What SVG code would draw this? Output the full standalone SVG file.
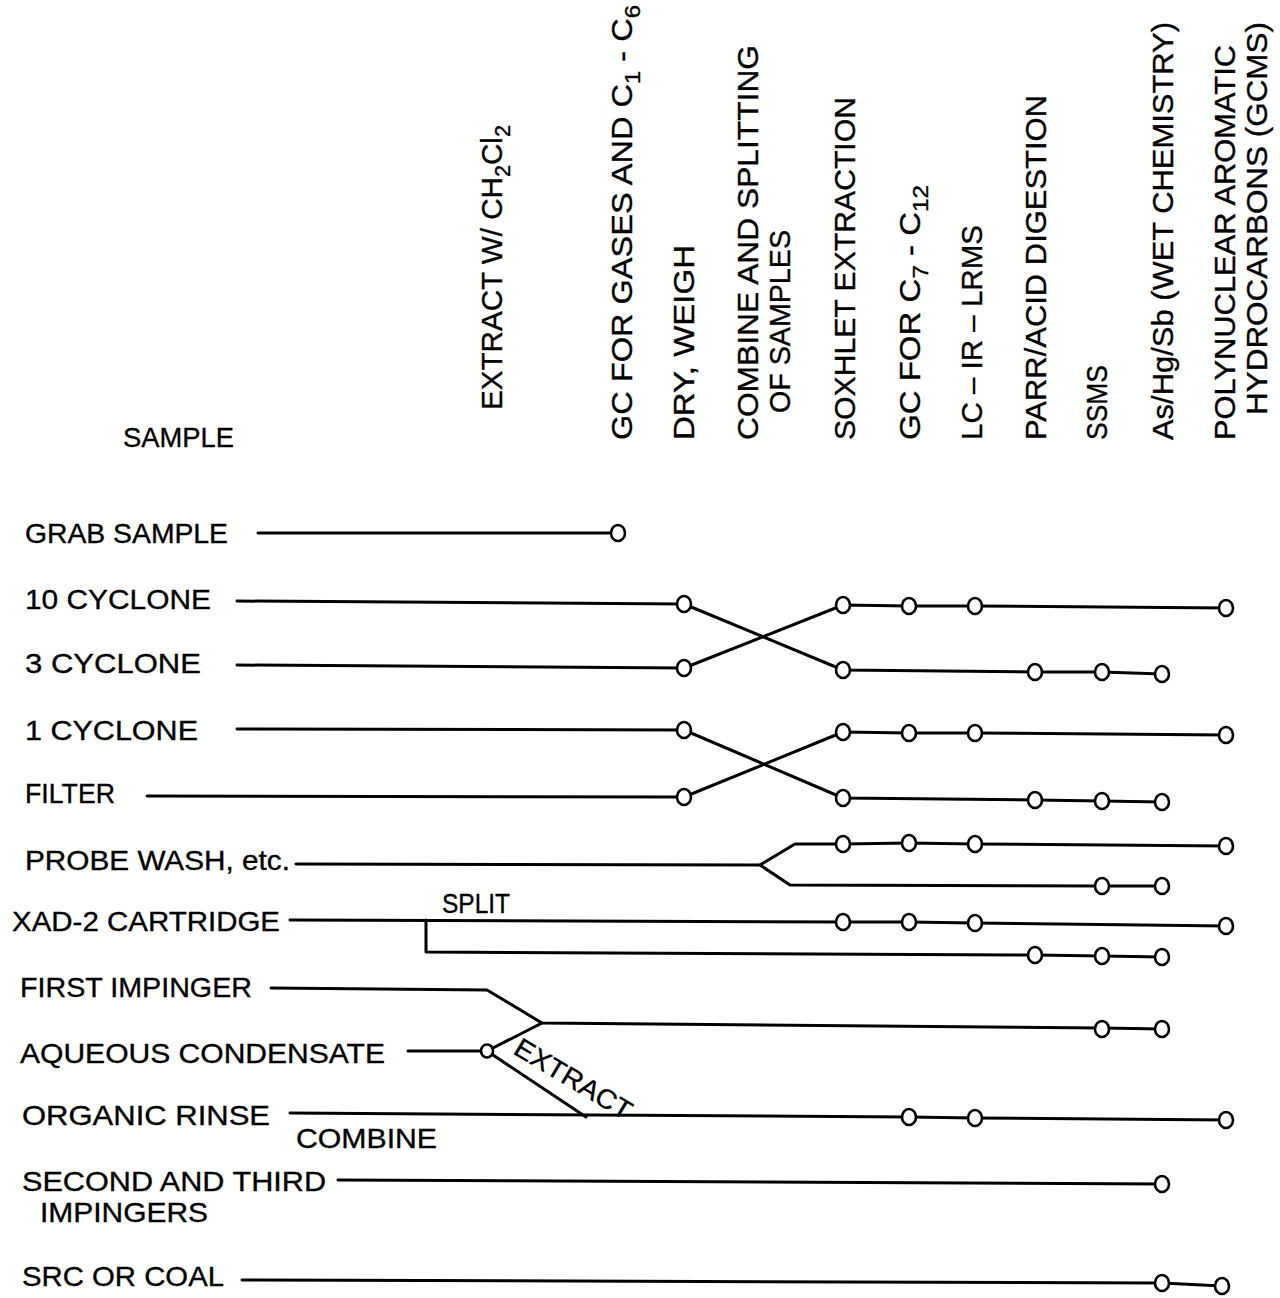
<svg xmlns="http://www.w3.org/2000/svg" width="1280" height="1298" viewBox="0 0 1280 1298">
  <style>
    .lbl { font-family: "Liberation Sans", "DejaVu Sans", sans-serif; font-size: 28px; fill: #000; stroke: #000; stroke-width: 0.35px; }
    .hdr { font-family: "Liberation Sans", "DejaVu Sans", sans-serif; font-size: 30px; fill: #000; stroke: #000; stroke-width: 0.35px; }
    .sub { font-size: 22px; }
    .wire { fill: none; stroke: #000; stroke-width: 3; stroke-linejoin: round; stroke-linecap: round; }
    .pt { fill: #fff; stroke: #000; stroke-width: 2.6; }
  </style>
  <rect width="1280" height="1298" fill="#fff"/>

  <!-- analysis step headers (rotated column titles) -->
  <g id="headers">
    <g id="h-extract"><text class="hdr" transform="translate(502,410) rotate(-90)" textLength="285" lengthAdjust="spacingAndGlyphs">EXTRACT W/ CH<tspan class="sub" dy="8">2</tspan><tspan dy="-8">Cl</tspan><tspan class="sub" dy="8">2</tspan></text></g>
    <g id="h-gc-gases"><text class="hdr" transform="translate(632,440) rotate(-90)" textLength="435" lengthAdjust="spacingAndGlyphs">GC FOR GASES AND C<tspan class="sub" dy="8">1</tspan><tspan dy="-8"> - C</tspan><tspan class="sub" dy="8">6</tspan></text></g>
    <g id="h-dry"><text class="hdr" transform="translate(694,440) rotate(-90)" textLength="195" lengthAdjust="spacingAndGlyphs">DRY, WEIGH</text></g>
    <g id="h-combine">
      <text class="hdr" transform="translate(758,440) rotate(-90)" textLength="395" lengthAdjust="spacingAndGlyphs">COMBINE AND SPLITTING</text>
      <text class="hdr" transform="translate(790,413) rotate(-90)" textLength="183" lengthAdjust="spacingAndGlyphs">OF SAMPLES</text>
    </g>
    <g id="h-soxhlet"><text class="hdr" transform="translate(855,440) rotate(-90)" textLength="343" lengthAdjust="spacingAndGlyphs">SOXHLET EXTRACTION</text></g>
    <g id="h-gc-c7"><text class="hdr" transform="translate(920,440) rotate(-90)" textLength="255" lengthAdjust="spacingAndGlyphs">GC FOR C<tspan class="sub" dy="8">7</tspan><tspan dy="-8"> - C</tspan><tspan class="sub" dy="8">12</tspan></text></g>
    <g id="h-lc"><text class="hdr" transform="translate(982,440) rotate(-90)" textLength="215" lengthAdjust="spacingAndGlyphs">LC – IR – LRMS</text></g>
    <g id="h-parr"><text class="hdr" transform="translate(1046,440) rotate(-90)" textLength="345" lengthAdjust="spacingAndGlyphs">PARR/ACID DIGESTION</text></g>
    <g id="h-ssms"><text class="hdr" transform="translate(1107,440) rotate(-90)" textLength="75" lengthAdjust="spacingAndGlyphs">SSMS</text></g>
    <g id="h-wet"><text class="hdr" transform="translate(1173,440) rotate(-90)" textLength="418" lengthAdjust="spacingAndGlyphs">As/Hg/Sb  (WET CHEMISTRY)</text></g>
    <g id="h-pah">
      <text class="hdr" transform="translate(1235,440) rotate(-90)" textLength="395" lengthAdjust="spacingAndGlyphs">POLYNUCLEAR AROMATIC</text>
      <text class="hdr" transform="translate(1267,415) rotate(-90)" textLength="393" lengthAdjust="spacingAndGlyphs">HYDROCARBONS (GCMS)</text>
    </g>
  </g>

  <!-- sample labels -->
  <g id="samples">
    <g id="s-title"><text class="lbl" x="123" y="447" textLength="111" lengthAdjust="spacingAndGlyphs">SAMPLE</text></g>
    <g id="s-grab"><text class="lbl" x="25" y="543" textLength="203" lengthAdjust="spacingAndGlyphs">GRAB SAMPLE</text></g>
    <g id="s-10cyc"><text class="lbl" x="25" y="609" textLength="186" lengthAdjust="spacingAndGlyphs">10 CYCLONE</text></g>
    <g id="s-3cyc"><text class="lbl" x="25" y="673" textLength="176" lengthAdjust="spacingAndGlyphs">3 CYCLONE</text></g>
    <g id="s-1cyc"><text class="lbl" x="25" y="740" textLength="173" lengthAdjust="spacingAndGlyphs">1 CYCLONE</text></g>
    <g id="s-filter"><text class="lbl" x="25" y="803" textLength="90" lengthAdjust="spacingAndGlyphs">FILTER</text></g>
    <g id="s-probe"><text class="lbl" x="25" y="870" textLength="265" lengthAdjust="spacingAndGlyphs">PROBE WASH, etc.</text></g>
    <g id="s-xad"><text class="lbl" x="12" y="931" textLength="268" lengthAdjust="spacingAndGlyphs">XAD-2 CARTRIDGE</text></g>
    <g id="s-first"><text class="lbl" x="20" y="997" textLength="232" lengthAdjust="spacingAndGlyphs">FIRST IMPINGER</text></g>
    <g id="s-aqueous"><text class="lbl" x="20" y="1063" textLength="365" lengthAdjust="spacingAndGlyphs">AQUEOUS CONDENSATE</text></g>
    <g id="s-organic"><text class="lbl" x="22" y="1125" textLength="248" lengthAdjust="spacingAndGlyphs">ORGANIC RINSE</text></g>
    <g id="s-second">
      <text class="lbl" x="22" y="1191" textLength="304" lengthAdjust="spacingAndGlyphs">SECOND AND THIRD</text>
      <text class="lbl" x="40" y="1222" textLength="168" lengthAdjust="spacingAndGlyphs">IMPINGERS</text>
    </g>
    <g id="s-src"><text class="lbl" x="22" y="1286" textLength="202" lengthAdjust="spacingAndGlyphs">SRC OR COAL</text></g>
  </g>

  <!-- flow lines between samples and analysis steps -->
  <g id="connectors" class="wire">
    <path d="M258 533 L618 533"/>
    <!-- cyclones 10 / 3 -->
    <path d="M237 601 L684 604 L843 670 L1035 672 L1102 672 L1162 674"/>
    <path d="M237 665 L684 668 L843 605 L909 606 L975 606 L1226 608"/>
    <!-- 1 cyclone / filter -->
    <path d="M237 729 L684 730 L843 798 L1035 800 L1102 801 L1162 802"/>
    <path d="M147 796 L684 797 L843 732 L909 733 L975 733 L1226 735"/>
    <!-- probe wash fork -->
    <path d="M296 864 L760 865 L795 844 L843 844 L909 843 L975 844 L1226 846"/>
    <path d="M760 865 L790 885 L1102 886 L1162 886"/>
    <!-- XAD-2 split -->
    <path d="M290 920 L843 922 L909 922 L975 923 L1226 926"/>
    <path d="M426 920 L426 952 L1035 955 L1102 956 L1162 957"/>
    <!-- impinger / condensate -->
    <path d="M271 988 L487 990 L542 1023 L1102 1028 L1162 1029"/>
    <path d="M408 1051 L487 1051 L542 1023"/>
    <path d="M487 1051 L586 1117"/>
    <path d="M290 1113 L909 1117 L975 1118 L1226 1120"/>
    <path d="M338 1180 L1162 1184"/>
    <path d="M242 1280 L1162 1283 L1222 1286"/>
  </g>

  <!-- connector annotations -->
  <g id="notes">
    <text class="lbl" x="442" y="913" textLength="68" lengthAdjust="spacingAndGlyphs">SPLIT</text>
    <text class="lbl" x="296" y="1148" textLength="141" lengthAdjust="spacingAndGlyphs">COMBINE</text>
    <text class="lbl" style="font-size:27px" transform="translate(512,1053) rotate(31)" textLength="132" lengthAdjust="spacingAndGlyphs">EXTRACT</text>
  </g>

  <!-- analysis points -->
  <g id="points" class="pt">
    <ellipse cx="618" cy="533" rx="7" ry="8"/>
    <ellipse cx="684" cy="604" rx="7" ry="8"/>
    <ellipse cx="684" cy="668" rx="7" ry="8"/>
    <ellipse cx="684" cy="730" rx="7" ry="8"/>
    <ellipse cx="684" cy="797" rx="7" ry="8"/>
    <ellipse cx="843" cy="605" rx="7" ry="8"/>
    <ellipse cx="909" cy="606" rx="7" ry="8"/>
    <ellipse cx="975" cy="606" rx="7" ry="8"/>
    <ellipse cx="1226" cy="608" rx="7" ry="8"/>
    <ellipse cx="843" cy="670" rx="7" ry="8"/>
    <ellipse cx="1035" cy="672" rx="7" ry="8"/>
    <ellipse cx="1102" cy="672" rx="7" ry="8"/>
    <ellipse cx="1162" cy="674" rx="7" ry="8"/>
    <ellipse cx="843" cy="732" rx="7" ry="8"/>
    <ellipse cx="909" cy="733" rx="7" ry="8"/>
    <ellipse cx="975" cy="733" rx="7" ry="8"/>
    <ellipse cx="1226" cy="735" rx="7" ry="8"/>
    <ellipse cx="843" cy="798" rx="7" ry="8"/>
    <ellipse cx="1035" cy="800" rx="7" ry="8"/>
    <ellipse cx="1102" cy="801" rx="7" ry="8"/>
    <ellipse cx="1162" cy="802" rx="7" ry="8"/>
    <ellipse cx="843" cy="844" rx="7" ry="8"/>
    <ellipse cx="909" cy="843" rx="7" ry="8"/>
    <ellipse cx="975" cy="844" rx="7" ry="8"/>
    <ellipse cx="1226" cy="846" rx="7" ry="8"/>
    <ellipse cx="1102" cy="886" rx="7" ry="8"/>
    <ellipse cx="1162" cy="886" rx="7" ry="8"/>
    <ellipse cx="843" cy="922" rx="7" ry="8"/>
    <ellipse cx="909" cy="922" rx="7" ry="8"/>
    <ellipse cx="975" cy="923" rx="7" ry="8"/>
    <ellipse cx="1226" cy="926" rx="7" ry="8"/>
    <ellipse cx="1035" cy="955" rx="7" ry="8"/>
    <ellipse cx="1102" cy="956" rx="7" ry="8"/>
    <ellipse cx="1162" cy="957" rx="7" ry="8"/>
    <ellipse cx="1102" cy="1029" rx="7" ry="8"/>
    <ellipse cx="1162" cy="1029" rx="7" ry="8"/>
    <ellipse cx="487" cy="1051" rx="6" ry="6.5"/>
    <ellipse cx="909" cy="1117" rx="7" ry="8"/>
    <ellipse cx="975" cy="1118" rx="7" ry="8"/>
    <ellipse cx="1226" cy="1120" rx="7" ry="8"/>
    <ellipse cx="1162" cy="1184" rx="7" ry="8"/>
    <ellipse cx="1162" cy="1283" rx="7" ry="8"/>
    <ellipse cx="1222" cy="1286" rx="7" ry="8"/>
  </g>
</svg>
